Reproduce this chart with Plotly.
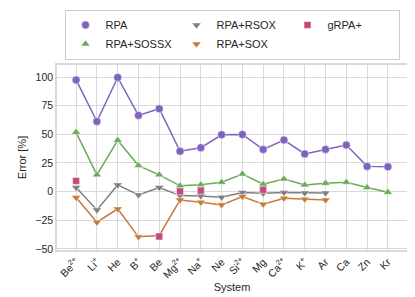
import plotly.graph_objects as go

systems = ["Be<sup>2+</sup>", "Li<sup>+</sup>", "He", "B<sup>+</sup>", "Be", "Mg<sup>2+</sup>",
           "Na<sup>+</sup>", "Ne", "Si<sup>2+</sup>", "Mg", "Ca<sup>2+</sup>", "K<sup>+</sup>",
           "Ar", "Ca", "Zn", "Kr"]

rpa = [97.5, 61.2, 99.6, 66.5, 72.3, 35.2, 38.3, 49.6, 49.9, 36.8, 45.0, 32.9, 36.8, 40.6, 22.0, 21.7]
rpa_sossx = [51.7, 14.6, 44.7, 22.7, 14.6, 5.0, 6.0, 8.1, 15.3, 6.4, 11.0, 5.8, 7.2, 8.1, 3.5, -0.6]
rpa_rsox = [3.5, -16.0, 5.8, -2.9, 3.5, -3.5, -3.8, -5.0, -0.8, -1.5, -0.9, -1.2, -1.2,
            None, None, None]
rpa_sox = [-5.2, -26.7, -15.1, -39.5, -38.3, -7.3, -9.3, -11.6, -4.4, -11.0, -5.8, -6.6, -7.3,
           None, None, None]
grpa = [9.3, None, None, None, -39.2, 0.2, 0.9, None, None, 1.6, None, None, None,
        None, None, None]

series = [
    ("RPA", rpa, "#7f62bd", "circle", 8, 1),
    ("RPA+SOSSX", rpa_sossx, "#6aab5a", "triangle-up", 8, 4),
    ("RPA+RSOX", rpa_rsox, "#7f7f7f", "triangle-down", 8, 2),
    ("RPA+SOX", rpa_sox, "#c57a35", "triangle-down", 8, 5),
]

fig = go.Figure()
for name, vals, color, sym, size, rank in series:
    fig.add_trace(go.Scatter(
        x=systems, y=vals, mode="lines", showlegend=False, hoverinfo="skip",
        line=dict(color=color, width=1.5), connectgaps=False,
    ))
    fig.add_trace(go.Scatter(
        x=systems, y=vals, name=name, mode="markers",
        marker=dict(symbol=sym, size=size, color=color, line=dict(color="white", width=0.5)),
        legendrank=rank,
    ))

fig.add_trace(go.Scatter(
    x=systems, y=grpa, name="gRPA+", mode="markers",
    marker=dict(symbol="square", size=7, color="#c24d7b", line=dict(color="white", width=0.5)),
    legendrank=3,
))

grid = "#d9d9d9"
fig.update_layout(
    width=415, height=297,
    margin=dict(l=49, r=16, t=57, b=55, autoexpand=False),
    paper_bgcolor="white", plot_bgcolor="white",
    font=dict(family="Liberation Sans, Arial, sans-serif", size=11, color="#262626"),
    legend=dict(
        orientation="h", x=0.5, xanchor="center", y=1.30, yanchor="top",
        bordercolor="#cccccc", borderwidth=1, bgcolor="white",
        entrywidth=66, entrywidthmode="pixels",
        font=dict(size=11), tracegroupgap=0,
    ),
    showlegend=True,
)
fig.update_xaxes(
    type="category", range=[-0.92, 15.92], tickangle=-45,
    showgrid=True, gridcolor=grid, gridwidth=1,
    showline=True, linecolor=grid, linewidth=1.5, mirror=True,
    ticks="", tickfont=dict(size=10.5),
    title=dict(text="System", font=dict(size=11), standoff=4),
    zeroline=False,
)
fig.update_yaxes(
    range=[-51, 110.5], tickvals=[-50, -25, 0, 25, 50, 75, 100],
    showgrid=True, gridcolor=grid, gridwidth=1,
    showline=True, linecolor=grid, linewidth=1.5, mirror=True,
    ticks="", tickfont=dict(size=10.5),
    title=dict(text="Error [%]", font=dict(size=11), standoff=6),
    zeroline=False,
)

fig.write_html("out.html")
